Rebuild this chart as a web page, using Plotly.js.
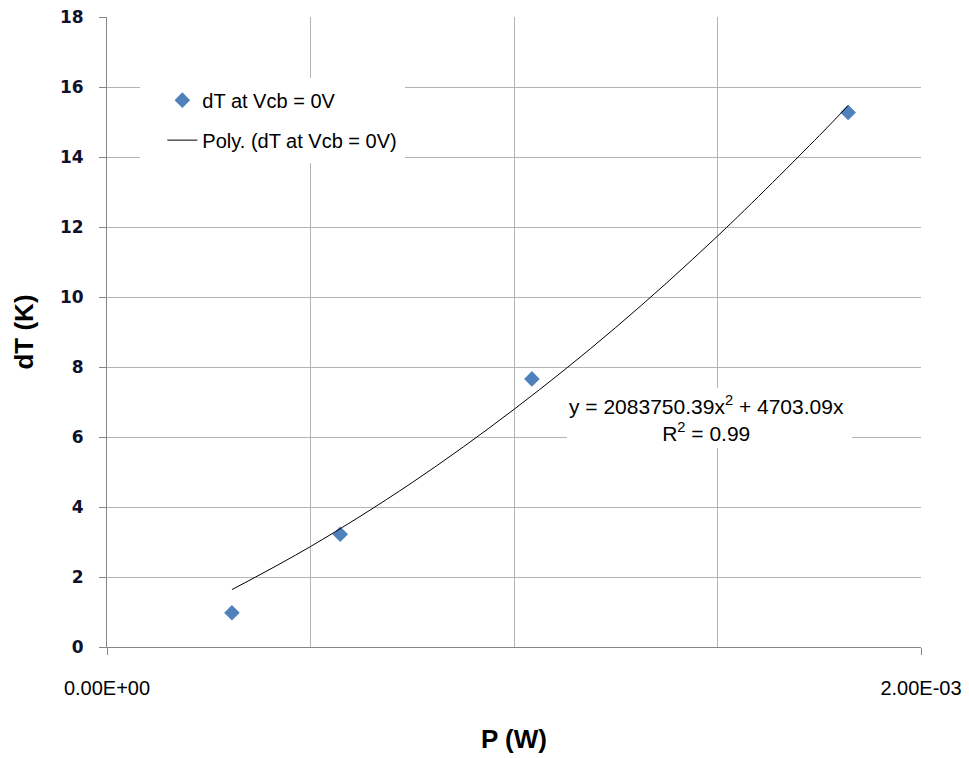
<!DOCTYPE html>
<html>
<head>
<meta charset="utf-8">
<script src="https://cdn.plot.ly/plotly-3.0.1.min.js"></script>
<style>html,body{margin:0;padding:0;background:#fff;}#chart{width:969px;height:758px;}</style>
</head>
<body>
<div id="chart"></div>
<script>
// Measured data
var powerW = [0.000307, 0.000573, 0.001044, 0.001821];
var dTK = [0.98, 3.22, 7.66, 15.27];
// Trendline
var trendX = [0.000307, 0.0005, 0.00075, 0.001, 0.00125, 0.0015, 0.00175, 0.001821];
var trendY = [1.64, 2.87, 4.70, 6.79, 9.13, 11.74, 14.61, 15.47];
// Tick labels
var xTickVals = [0, 0.002];
var xTickText = ['0.00E+00', '2.00E-03'];
var yTickVals = [0, 2, 4, 6, 8, 10, 12, 14, 16, 18];

var traces = [
  {x: powerW, y: dTK, type: 'scatter', mode: 'markers', name: 'dT at Vcb = 0V',
   legendgroup: 'a',
   marker: {symbol: 'diamond', size: 12, color: '#4f81bd'}},
  {x: trendX, y: trendY, type: 'scatter', mode: 'lines', name: 'Poly. (dT at Vcb = 0V)',
   legendgroup: 'b', line: {color: '#000000', width: 1, shape: 'spline'}}
];

var layout = {
  width: 969, height: 758,
  margin: {l: 107, r: 48, t: 17, b: 111},
  paper_bgcolor: '#ffffff', plot_bgcolor: '#ffffff',
  font: {family: 'Liberation Sans, Arial, sans-serif', color: '#000'},
  showlegend: true,
  legend: {x: 0.068, y: 0.899, xanchor: 'left', yanchor: 'top', bgcolor: 'rgba(255,255,255,0)',
           traceorder: 'grouped', tracegroupgap: 11, font: {size: 20, color: '#000'}},
  xaxis: {range: [0, 0.002], tickvals: xTickVals, ticktext: xTickText,
          showgrid: true, gridcolor: '#b4b4b4', gridwidth: 1,
          minor: {dtick: 0.0005, tick0: 0, showgrid: true, gridcolor: '#b4b4b4', gridwidth: 1, ticks: ''},
          showline: true, linecolor: '#868686', linewidth: 1,
          ticks: 'outside', ticklen: 7, tickcolor: '#868686',
          ticklabelstandoff: 16, zeroline: false,
          tickfont: {size: 20, color: '#000'},
          title: {text: '<b>P (W)</b>', font: {size: 26, color: '#000'}, standoff: 31}},
  yaxis: {range: [0, 18], tickvals: yTickVals, showgrid: true, gridcolor: '#b4b4b4', gridwidth: 1,
          showline: true, linecolor: '#868686', linewidth: 1,
          ticks: 'outside', ticklen: 7, tickcolor: '#868686', zeroline: false,
          ticklabelstandoff: 12,
          tickfont: {family: 'DejaVu Sans', size: 17, color: '#10102a', weight: 'bold'},
          title: {text: '<b>dT (K)</b>', font: {size: 26, color: '#000'}, standoff: 18}},
  shapes: [
    {type: 'rect', xref: 'paper', yref: 'paper', x0: 0.0405, x1: 0.366, y0: 0.768, y1: 0.903,
     fillcolor: '#ffffff', line: {width: 0}, layer: 'above'},
    {type: 'rect', xref: 'paper', yref: 'paper', x0: 0.565, x1: 0.915, y0: 0.316, y1: 0.411,
     fillcolor: '#ffffff', line: {width: 0}, layer: 'above'}
  ],
  annotations: [
    {xref: 'paper', yref: 'paper', x: 0.7365, y: 0.363, xanchor: 'center', yanchor: 'middle',
     text: 'y = 2083750.39x<sup>2</sup> + 4703.09x<br>R<sup>2</sup> = 0.99',
     showarrow: false, align: 'center',
     font: {size: 21, color: '#000'}}
  ]
};

Plotly.newPlot('chart', traces, layout, {displayModeBar: false, staticPlot: true});
</script>
</body>
</html>
